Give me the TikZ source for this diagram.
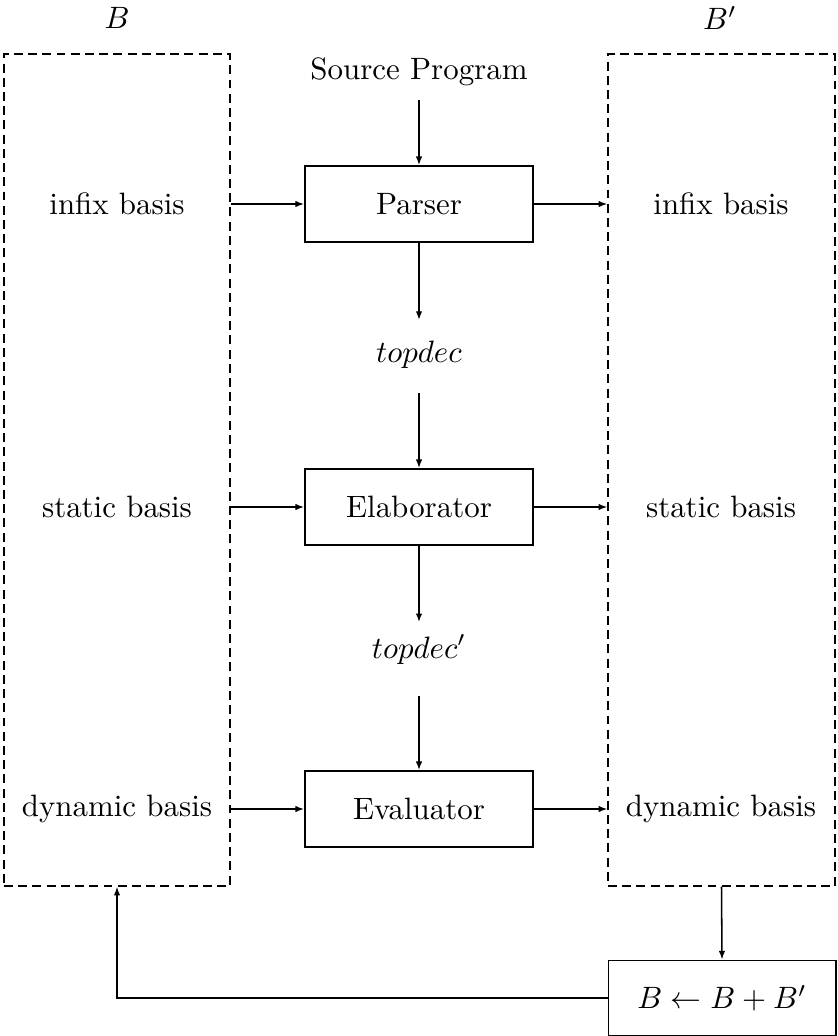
\documentclass[tikz,border=0pt]{standalone}
\usetikzlibrary{arrows.meta,fit}
\begin{document}
\begin{tikzpicture}[x=0.3236pt,y=-0.3236pt,
  arr/.style={line width=0.5pt,-{Latex[length=2.8pt,width=2.1pt]}},
  procbox/.style={draw,line width=0.75pt,minimum width=73.6pt,minimum height=24.4pt,inner sep=0pt},
  basisbox/.style={draw,line width=0.45pt,dash pattern=on 2.9pt off 1.7pt,inner sep=0pt},
  lbl/.style={inner sep=0pt}]
\useasboundingbox (0,0) rectangle (837,1036);
\node[basisbox,fit={(4,54) (230,886)}] (L) {};
\node[basisbox,fit={(608,54) (835,886)}] (R) {};
\node[lbl] (Bl) at (117,18) {$B$};
\node[lbl] (Br) at (720,18) {$B'$};
\node[lbl] (src) at (419,72) {Source Program};
\node[procbox] (parser) at (419,204) {Parser};
\node[lbl,anchor=base] (td) at (419,362) {$topdec$};
\node[procbox] (elab) at (419,507) {Elaborator};
\node[lbl,anchor=base] (tdp) at (419,658) {$topdec'$};
\node[procbox] (eval) at (419,809) {Evaluator};
\node[lbl] (li) at (117,204) {infix basis};
\node[lbl] (ls) at (117,507) {static basis};
\node[lbl] (ld) at (117,809) {dynamic basis};
\node[lbl] (ri) at (721,204) {infix basis};
\node[lbl] (rs) at (721,507) {static basis};
\node[lbl] (rd) at (721,809) {dynamic basis};
\node[draw,line width=0.5pt,minimum width=73.6pt,minimum height=24.4pt,inner sep=0pt] (res) at (722,998) {$B\leftarrow B+B'$};
\coordinate (srcb) at (419,100);
\draw[arr] (src.south |- srcb) -- (parser.north);
\draw[arr] (parser.south) -- ([yshift=13.6pt]td.base);
\draw[arr] ([yshift=-10pt]td.base) -- (elab.north);
\draw[arr] (elab.south) -- ([yshift=11.6pt]tdp.base);
\draw[arr] ([yshift=-12.2pt]tdp.base) -- (eval.north);
\draw[arr] (L.east |- parser.west) -- (parser.west);
\draw[arr] (L.east |- elab.west) -- (elab.west);
\draw[arr] (L.east |- eval.west) -- (eval.west);
\draw[arr] (parser.east) -- (R.west |- parser.east);
\draw[arr] (elab.east) -- (R.west |- elab.east);
\draw[arr] (eval.east) -- (R.west |- eval.east);
\draw[arr] (R.south) -- (res.north);
\draw[arr] (res.west) -| (L.south);
\end{tikzpicture}
\end{document}
